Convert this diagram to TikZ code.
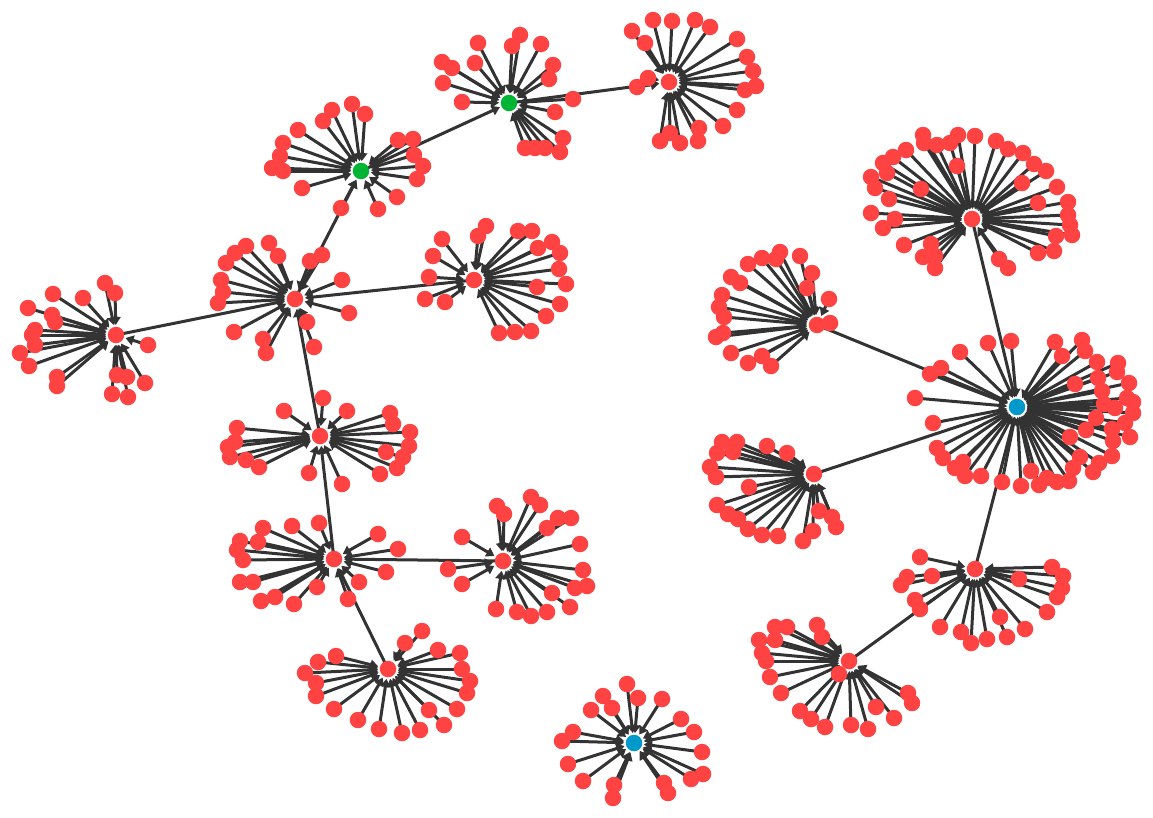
\documentclass[tikz,border=0pt]{standalone}
\usetikzlibrary{arrows.meta}
\definecolor{nred}{HTML}{FF4343}
\definecolor{ngreen}{HTML}{00B534}
\definecolor{nblue}{HTML}{0099CC}
\definecolor{edgec}{HTML}{333333}
\tikzset{
  leaf/.style={circle,fill=nred,minimum size=16.5pt,inner sep=0pt,outer sep=0pt},
  hubr/.style={leaf},
  hubg/.style={leaf,fill=ngreen},
  hubb/.style={leaf,fill=nblue},
  edge/.style={draw=edgec,line width=3pt,-{Triangle[length=8pt,width=10pt]},shorten >=10pt},
}
\newcommand\edgesof[2]{%
  \foreach \x/\y [count=\i] in #2 {%
    \coordinate (c#1-\i) at (\x,\y);
    \draw[edge] (c#1-\i) -- (#1);
  }%
}
\newcommand\leavesof[2]{%
  \foreach \x/\y [count=\i] in #2 {%
    \node[leaf] (#1-\i) at (\x,\y) {};
  }%
}
\def\LA{478/43,520/35,512/46,541/44,442/62,452/68,475/63,553/65,549/79,443/83,462/102,555/112,573/99,563/138,560/152,525/148,535/148,545/148}
\def\LB{632/31,645/43,653/20,672/21,695/20,710/27,737/39,747/57,753/71,756/86,745/90,737/110,723/126,699/128,698/141,680/143,670/133,660/141,637/87,648/78}
\def\LC{352/104,365/114,332/110,323/121,298/130,283/143,280/156,272/168,283/171,302/188,398/140,413/139,414/155,423/166,417/179,397/197,378/209,341/208}
\def\LD{246/246,235/253,269/243,278/256,226/263,221/280,223/292,218/303,310/261,322/255,342/280,349/313,307/322,314/347,234/332,263/339,266/353}
\def\LE{486/226,478/236,442/239,433/256,429/277,425/299,445/302,518/231,532/231,538/248,552/242,560/253,559/269,566/284,537/287,560/304,546/316,499/333,515/332,531/331}
\def\LF{105/283,115/293,53/294,83/298,28/308,52/315,55/322,35/330,32/335,35/345,20/353,29/366,57/377,57/386,117/375,127/377,145/383,112/394,128/397,148/345}
\def\LG{323/398,284/411,347/411,237/428,235/442,228/447,230/457,246/460,259/467,309/473,342/484,390/413,393/424,410/432,409/446,386/452,403/457,397/468,380/474}
\def\LH{263/528,292/526,319/523,378/534,398/549,386/572,359/582,348/599,317/587,294/604,275/597,261/601,240/582,253/582,243/560,237/550,240/541,258/542}
\def\LI{497/506,504/514,531/497,540/505,558/518,571/518,547/528,580/544,583/570,575/588,587/586,552/593,570/607,547/612,531/616,517/612,496/609,462/537,448/569,462/584}
\def\LJ{422/631,405/643,438/650,460/653,462/669,470/681,467/693,457/709,444/725,429/710,420/730,402/733,379/729,358/720,334/709,316/696,316/683,305/673,318/662,336/656}
\def\LK{627/684,603/696,612/708,638/698,662/699,591/710,681/719,694/732,573/732,562/741,702/752,568/764,583/781,614/785,613/798,664/783,668/793,691/779,703/774}
\def\LL{923/135,924/143,937/145,950/143,958/135,975/136,996/141,1008/149,1023/153,1034/164,1046/171,1057/187,1068/202,1068/215,1070/225,1072/235,1056/236,1054/251,1038/253,1008/268,999/259,1022/183,1038/203,957/166,906/150,893/157,883/163,887/173,871/177,875/188,889/199,921/189,871/213,895/219,883/228,904/245,931/244,923/257,935/256,935/268}
\def\LM{960/352,988/343,1011/341,941/368,930/374,915/398,933/423,937/448,943/458,955/468,963/462,965/476,981/476,1002/482,1021/486,1031/471,1039/485,1047/478,1057/482,1069/481,1073/468,1080/457,1093/472,1099/463,1112/456,1113/441,1112/429,1130/437,1096/418,1086/430,1070/437,1075/384,1098/378,1102/391,1104/404,1115/408,1127/398,1129/383,1133/413,1118/363,1097/362,1085/351,1082/340,1055/342,1062/356,1117/372,1133/402,1125/423}
\def\LN{780/252,776/259,762/258,748/264,731/277,740/283,722/295,719/307,724/317,716/337,723/333,731/353,748/363,762/356,771/366,800/256,812/273,807/288,829/299,830/323}
\def\LO{722/442,737/442,733/452,717/453,710/467,716/477,767/446,787/453,749/487,717/505,728/514,738/519,748/529,762/535,778/536,803/541,813/531,819/511,832/517,836/527}
\def\LP{920/557,907/577,901/585,932/576,915/600,920/609,940/627,961/632,971/643,987/639,1000/617,1007/637,1025/629,1047/612,1057/597,1062/588,1063/576,1052/567,1019/579}
\def\LQ{775/627,787/627,817/625,822/637,759/640,775/640,762/653,766/661,770/677,781/693,800/711,811/719,825/727,851/725,868/729,876/707,894/718,908/693,912/703,839/674}
\begin{document}
\begin{tikzpicture}[x=1pt,y=-1pt]
\useasboundingbox[fill=white] (0,0) rectangle (1153,817);
% hub centres
\coordinate (h1) at (509,103);
\coordinate (h2) at (669,82);
\coordinate (h3) at (361,171);
\coordinate (h4) at (295,299);
\coordinate (h5) at (474,280);
\coordinate (h6) at (116,335);
\coordinate (h7) at (320,436);
\coordinate (h8) at (334,559);
\coordinate (h9) at (503,561);
\coordinate (h10) at (388,669);
\coordinate (h11) at (634,743);
\coordinate (h12) at (972,219);
\coordinate (h13) at (1017,407);
\coordinate (h14) at (817,325);
\coordinate (h15) at (814,474);
\coordinate (h16) at (975,569);
\coordinate (h17) at (849,661);
% hub-to-hub connectors
\draw[edge] (h6) -- (h4);
\draw[edge] (h5) -- (h4);
\draw[edge] (h4) -- (h3);
\draw[edge] (h3) -- (h1);
\draw[edge] (h1) -- (h2);
\draw[edge] (h7) -- (h4);
\draw[edge] (h8) -- (h7);
\draw[edge] (h9) -- (h8);
\draw[edge] (h10) -- (h8);
\draw[edge] (h12) -- (h13);
\draw[edge] (h14) -- (h13);
\draw[edge] (h15) -- (h13);
\draw[edge] (h16) -- (h13);
\draw[edge] (h17) -- (h16);
% leaf connectors
\edgesof{h1}{\LA}
\edgesof{h2}{\LB}
\edgesof{h3}{\LC}
\edgesof{h4}{\LD}
\edgesof{h5}{\LE}
\edgesof{h6}{\LF}
\edgesof{h7}{\LG}
\edgesof{h8}{\LH}
\edgesof{h9}{\LI}
\edgesof{h10}{\LJ}
\edgesof{h11}{\LK}
\edgesof{h12}{\LL}
\edgesof{h13}{\LM}
\edgesof{h14}{\LN}
\edgesof{h15}{\LO}
\edgesof{h16}{\LP}
\edgesof{h17}{\LQ}
% leaf nodes
\leavesof{h1}{\LA}
\leavesof{h2}{\LB}
\leavesof{h3}{\LC}
\leavesof{h4}{\LD}
\leavesof{h5}{\LE}
\leavesof{h6}{\LF}
\leavesof{h7}{\LG}
\leavesof{h8}{\LH}
\leavesof{h9}{\LI}
\leavesof{h10}{\LJ}
\leavesof{h11}{\LK}
\leavesof{h12}{\LL}
\leavesof{h13}{\LM}
\leavesof{h14}{\LN}
\leavesof{h15}{\LO}
\leavesof{h16}{\LP}
\leavesof{h17}{\LQ}
% hub nodes
\node[hubg] (n1) at (h1) {};
\node[hubr] (n2) at (h2) {};
\node[hubg] (n3) at (h3) {};
\node[hubr] (n4) at (h4) {};
\node[hubr] (n5) at (h5) {};
\node[hubr] (n6) at (h6) {};
\node[hubr] (n7) at (h7) {};
\node[hubr] (n8) at (h8) {};
\node[hubr] (n9) at (h9) {};
\node[hubr] (n10) at (h10) {};
\node[hubb] (n11) at (h11) {};
\node[hubr] (n12) at (h12) {};
\node[hubb] (n13) at (h13) {};
\node[hubr] (n14) at (h14) {};
\node[hubr] (n15) at (h15) {};
\node[hubr] (n16) at (h16) {};
\node[hubr] (n17) at (h17) {};
\end{tikzpicture}
\end{document}
